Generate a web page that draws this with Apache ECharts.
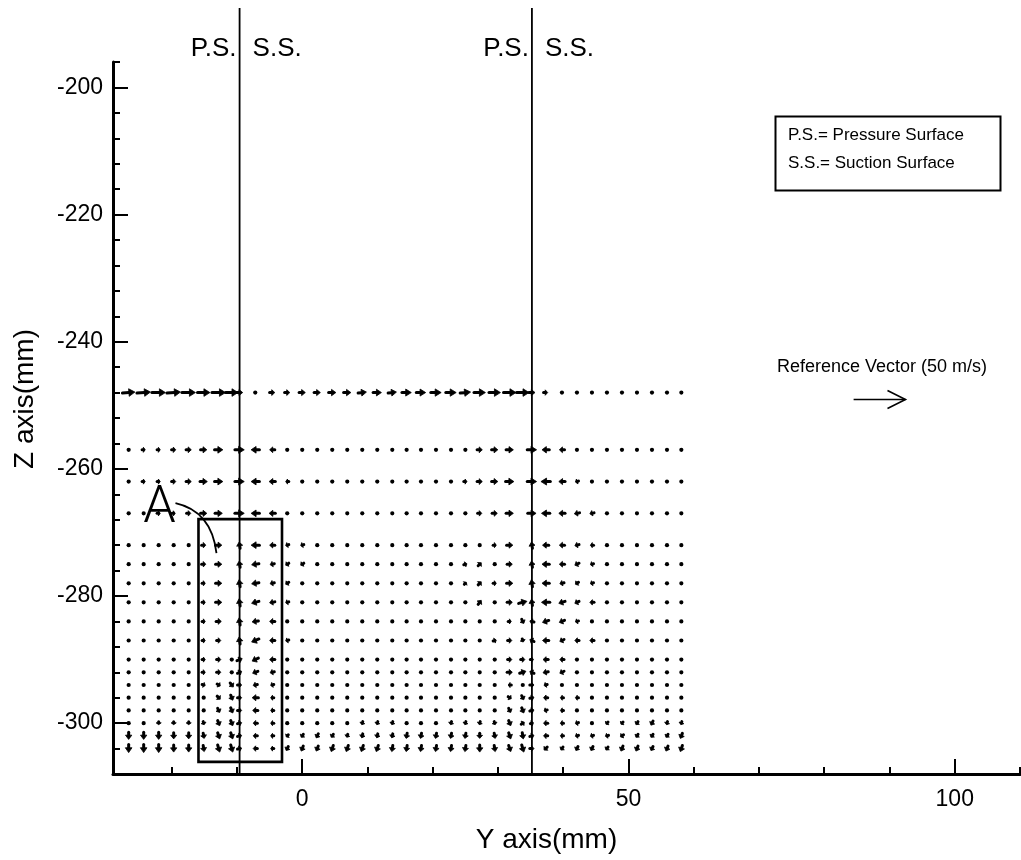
<!DOCTYPE html>
<html>
<head>
<meta charset="utf-8">
<title>Velocity vectors, Y-Z plane</title>
<script src="https://cdn.jsdelivr.net/npm/echarts@6/dist/echarts.min.js"></script>
<style>
  html, body { margin: 0; padding: 0; background: #fff; }
  #chart { width: 1021px; height: 860px; }
</style>
</head>
<body>
<div id="chart"></div>
<script>
// axis ranges and ticks (mm)
const yRange = [-29, 110];
const zRange = [-308, -196];
const yMajorTicks = [0, 50, 100];
const yMinorTicks = [-20, -10, 0, 10, 20, 30, 40, 50, 60, 70, 80, 90, 100, 110];
const zMajorTicks = [-300, -280, -260, -240, -220, -200];
const zMinorTicks = [-308, -304, -300, -296, -292, -288, -284, -280, -276, -272, -268, -264, -260, -256,
  -252, -248, -244, -240, -236, -232, -228, -224, -220, -216, -212, -208, -204, -200, -196];

// blade surfaces (Y position, mm)
const bladeY = [-9.6, 35.2];

// measurement grid
const columnY = [-26.6, -24.3, -22.0, -19.7, -17.4, -15.1, -12.8, -10.8, -9.6,
  -7.2, -4.6, -2.3, 0.0, 2.3, 4.6, 6.9, 9.2, 11.5, 13.8,
  16.0, 18.2, 20.5, 22.8, 25.0, 27.2, 29.5, 31.8, 33.8, 35.2,
  37.3, 39.8, 42.1, 44.4, 46.7, 49.0, 51.3, 53.6, 55.9, 58.1];
const rowZ = [-248, -257, -262, -267, -272, -275, -278, -281, -284, -287,
  -290, -292, -294, -296, -298, -300, -302, -304];

// [v, w] velocity (m/s) per column, one array per Z row
const row248 = [[12,1],[13,1],[13,0],[13,1],[13,0],[12,0],[13,0],[12,0],[6,0],
  [2,0],[5,0],[5,0],[6,0],[6,0],[7,0],[7,0],[8,1],[8,0],[8,1],
  [9,0],[9,0],[10,0],[10,0],[10,1],[11,0],[11,0],[12,0],[12,0],[6,0],
  [4,0],[1,0],[0,0],[1,0],[1,0],[1,0],[2,0],[2,0],[2,0],[2,0]];
const row257 = [[2,0],[3,0],[3,0],[4,0],[5,0],[6,0],[8,0],null,[9,0],
  [-8,0],[-5,0],[-2,0],[-2,0],[-1,0],[-1,1],[0,0],[1,0],[1,0],[1,0],
  [1,0],[1,0],[2,0],[2,0],[2,0],[5,0],[6,0],[7,0],null,[9,0],
  [-7,0],[-5,0],[-2,0],[-1,0],[-1,0],[-1,0],[-1,0],[-1,0],[-1,0],[-1,0]];
const row262 = [[2,0],[3,0],[3,0],[4,0],[5,0],[7,0],[8,0],null,[9,0],
  [-8,0],[-6,0],[-3,0],[-2,0],[-1,0],[-1,1],[0,0],[1,0],[1,0],[1,0],
  [1,0],[1,0],[2,0],[2,0],[3,0],[5,0],[6,0],[8,0],null,[9,0],
  [-9,0],[-6,0],[-3,-1],[-2,0],[-1,0],[-1,0],[-1,0],[-1,0],[-1,0],[-1,0]];
const row267 = [[1,0],[2,0],[3,0],[3,0],[4,0],[6,0],[7,0],null,[9,0],
  [-8,0],[-6,0],[-2,0],[-2,0],[-1,-1],[-1,1],[0,1],[0,0],[1,0],[1,0],
  [1,0],[1,0],[1,0],[2,0],[2,0],[4,0],[5,0],[7,0],null,[8,0],
  [-8,0],[-6,0],[-5,-1],[-4,-1],[-2,0],[-1,0],[-1,0],[-1,0],[-1,0],[-1,0]];
const row272 = [[1,0],[1,0],[1,0],[2,0],[2,0],[4,0],[6,0],null,[-1,6],
  [-8,0],[-5,0],[-3,-1],[-3,-1],[-2,-1],[-1,-1],[-1,0],[0,0],[1,0],[1,0],
  [1,0],[1,0],[1,0],[1,0],[2,0],[2,0],[3,0],[6,0],null,[-1,6],
  [-6,0],[-5,0],[-4,-1],[-3,0],[-1,0],[-1,0],[0,0],[0,0],[0,0],[0,0]];
const row275 = [[1,0],[1,0],[1,0],[2,0],[2,0],[4,0],[6,0],null,[-1,6],
  [-7,-1],[-4,-1],[-3,-2],[-3,-2],[-2,-1],[-1,-1],[-1,0],[0,0],[0,0],[0,0],
  [1,0],[1,0],[1,0],[2,0],[3,1],[3,3],[2,0],[5,0],null,[-1,6],
  [-7,0],[-5,0],[-4,-2],[-3,-1],[-1,0],[-1,0],[0,0],[0,0],[1,0],[1,0]];
const row278 = [[1,0],[1,0],[1,0],[1,0],[2,0],[3,0],[6,0],null,[-1,7],
  [-7,-1],[-4,-1],[-3,-2],[-2,-1],[-1,0],[-1,0],[0,0],[0,0],[0,0],[0,0],
  [1,0],[1,0],[1,0],[2,0],[2,2],[3,3],[3,0],[6,0],null,[-1,7],
  [-7,0],[-4,-1],[-3,-2],[-3,-1],[-1,0],[-1,0],[0,0],[0,0],[0,0],[0,0]];
const row281 = [[1,0],[1,0],[1,0],[2,0],[2,0],[3,0],[6,0],null,[-1,7],
  [-7,-2],[-5,-1],[-3,-1],[-2,-1],[-2,0],[-2,0],[-1,0],[-1,0],[0,0],[0,0],
  [1,0],[1,0],[1,0],[1,0],[2,1],[3,4],[2,0],[5,0],[8,2],[-1,6],
  [-8,0],[-6,-2],[-4,-2],[-4,0],[-2,0],[-2,0],[-1,0],[-1,0],[-1,0],[-1,0]];
const row284 = [[1,0],[1,0],[1,0],[1,0],[2,0],[3,0],[5,0],null,[-1,7],
  [-6,-1],[-5,0],[-2,-1],[-2,-1],[-2,0],[-1,0],[0,0],[0,0],[0,0],[0,0],
  [1,0],[1,0],[1,0],[1,0],[2,1],[1,2],[1,0],[3,0],[2,-4],[-4,1],
  [-6,-2],[-5,-2],[-3,-1],[-2,0],[-2,0],[-1,0],[0,0],[0,0],[0,0],[0,0]];
const row287 = [[0,0],[1,0],[1,0],[1,0],[1,0],[3,0],[4,0],null,[-1,7],
  [-7,-3],[-5,0],[-3,-1],[-2,0],[-2,-1],[-1,0],[0,0],[0,0],[0,0],[0,0],
  [0,0],[1,0],[0,0],[0,0],[1,0],[1,0],[3,1],[4,0],[1,-3],[-4,2],
  [-6,0],[-4,-2],[-4,0],[-4,0],[-1,0],[-1,0],[0,0],[0,0],[0,0],[0,0]];
const row290 = [[0,0],[0,0],[0,0],[1,0],[1,0],[3,0],[4,0],[2,1],[5,2],
  [-6,-3],[-5,0],[-1,0],[-1,0],[-1,0],[0,0],[0,0],[0,0],[0,0],[0,0],
  [0,0],[0,0],[0,0],[0,0],[0,0],[1,0],[1,0],[4,0],[4,0],[3,0],
  [-5,0],[-4,0],[-2,-1],[-2,0],[-1,0],[-1,0],[0,0],[0,0],[0,0],[0,0]];
const row292 = [[0,0],[0,0],[0,0],[0,0],[1,0],[3,0],[4,0],[1,0],[4,2],
  [-5,-2],[-4,-1],[-1,0],[-1,0],[-1,0],[0,0],[0,0],[0,0],[0,0],[0,0],
  [0,0],[0,0],[0,0],[0,0],[0,0],[1,0],[1,0],[5,0],[6,2],[-4,2],
  [-5,-1],[-4,-2],[-2,-1],[-1,0],[-1,0],[0,0],[0,0],[0,0],[0,0],[0,0]];
const row294 = [[0,0],[1,-1],[1,-1],[1,-1],[1,-1],[3,-1],[3,-2],[3,-4],[4,0],
  [-4,-1],[-3,-1],[-1,0],[0,0],[0,0],[0,0],[0,0],[0,0],[0,0],[0,0],
  [0,0],[0,0],[0,0],[1,-1],[0,0],[1,0],[2,0],[-3,0],[1,0],[4,0],
  [-3,-1],[-2,-1],[-1,-1],[-1,0],[0,0],[0,0],[0,0],[0,0],[0,0],[0,0]];
const row296 = [[0,0],[0,-1],[0,-1],[0,-1],[1,-1],[2,-1],[3,-3],[2,-5],[4,0],
  [-6,0],[-3,0],[-2,0],[-1,0],[-1,-1],[0,-1],[0,-1],[0,-1],[0,-1],[0,-1],
  [0,-1],[0,-1],[0,-1],[0,-1],[0,-1],[1,-1],[1,-2],[3,-2],[2,-4],[4,1],
  [-4,0],[-3,0],[-3,0],[-2,-1],[-2,-1],[-1,-1],[-1,-1],[0,-1],[0,-1],[0,-1]];
const row298 = [[0,-1],[0,-2],[0,-1],[0,-1],[0,-2],[1,-2],[2,-4],[2,-5],[4,0],
  [-5,0],[-3,0],[-2,0],[-1,0],[-1,-1],[0,-1],[0,-1],[-1,-1],[0,-2],[0,-2],
  [0,-1],[0,-1],[0,-1],[0,-1],[0,-2],[0,-1],[1,-2],[2,-4],[2,-5],[4,1],
  [-3,-1],[-3,0],[-2,0],[-2,-1],[-1,-1],[-1,-1],[-1,-2],[-1,-2],[-1,-2],[-1,-2]];
const row300 = [[0,-1],[0,-2],[0,-3],[0,-3],[0,-3],[1,-3],[2,-5],[2,-5],[4,1],
  [-4,0],[-3,0],[-2,-1],[-2,-1],[-1,-2],[-1,-2],[-1,-2],[-1,-3],[-1,-3],[-1,-3],
  [-1,-2],[-1,-2],[-1,-2],[-1,-3],[-1,-3],[-1,-3],[1,-3],[2,-5],[3,2],[3,1],
  [-4,0],[-3,0],[-3,-1],[-2,-1],[-2,-2],[-2,-2],[-2,-3],[-2,-4],[-1,-3],[-1,-3]];
const row302 = [[0,-7],[0,-7],[0,-7],[0,-6],[0,-6],[1,-5],[2,-6],[2,-6],[4,1],
  [-4,0],[-3,0],[-2,-2],[-2,-3],[-2,-4],[-2,-3],[-1,-3],[-1,-4],[-1,-4],[-1,-4],
  [-1,-5],[-1,-5],[-1,-5],[-1,-5],[-1,-5],[0,-5],[1,-5],[2,-6],[1,-6],[4,1],
  [-4,0],[-3,0],[-3,-1],[-3,-1],[-3,-1],[-3,-2],[-2,-3],[-2,-3],[-2,-3],[-2,-5]];
const row304 = [[0,-8],[0,-8],[0,-8],[0,-7],[0,-7],[1,-6],[2,-7],[2,-7],[4,1],
  [-4,0],[-3,0],[-2,-4],[-2,-5],[-2,-5],[-2,-6],[-2,-6],[-2,-6],[-2,-6],[-1,-6],
  [-1,-6],[-1,-6],[-1,-6],[-1,-6],[-1,-6],[0,-7],[1,-6],[2,-6],[2,-7],[4,0],
  [-3,-3],[-2,-3],[-2,-4],[-2,-4],[-2,-3],[-2,-5],[-2,-5],[-2,-4],[-2,-5],[-2,-6]];
const rowVectors = [row248, row257, row262, row267, row272, row275, row278, row281, row284,
  row287, row290, row292, row294, row296, row298, row300, row302, row304];

// reference vector: [Y, Z, v, w]
const refVector = [[84.5, -249.1, 50, 0]];
// box around region A: [Y0, Z0, Y1, Z1]
const regionA = [[-15.9, -267.9, -3.1, -306.1]];

// vector length scale: mm of plot per m/s
const mmPerMs = 0.159;
const FONT = '"Liberation Sans", Arial, Helvetica, sans-serif';

const vectorData = [];
rowVectors.forEach((row, i) => {
  row.forEach((v, j) => {
    if (v) vectorData.push([columnY[j], rowZ[i], v[0], v[1]]);
  });
});

// 速度矢量：以测点为中心画短箭头
const renderVector = (params, api) => {
  const y = api.value(0), z = api.value(1);
  const du = api.value(2) * mmPerMs / 2, dw = api.value(3) * mmPerMs / 2;
  const p = api.coord([y, z]);
  const tail = api.coord([y - du, z - dw]);
  const head = api.coord([y + du, z + dw]);
  const dx = head[0] - tail[0], dy = head[1] - tail[1];
  const len = Math.hypot(dx, dy);
  if (len < 2.5) {
    return { type: 'circle', shape: { cx: p[0], cy: p[1], r: 2.1 }, style: { fill: '#000' } };
  }
  const ux = dx / len, uy = dy / len;
  const h = Math.min(6, len * 0.6);
  const w = Math.min(3.8, 2.1 + len * 0.15);
  const bx = head[0] - ux * h, by = head[1] - uy * h;
  return {
    type: 'group',
    children: [
      { type: 'line', shape: { x1: tail[0], y1: tail[1], x2: bx, y2: by },
        style: { stroke: '#000', lineWidth: 3, lineCap: 'round' } },
      { type: 'polygon', shape: { points: [[head[0], head[1]], [bx - uy * w, by + ux * w], [bx + uy * w, by - ux * w]] },
        style: { fill: '#000', stroke: '#000', lineWidth: 0.8, lineJoin: 'round' } }
    ]
  };
};

const renderRefVector = (params, api) => {
  const tail = api.coord([api.value(0), api.value(1)]);
  const head = api.coord([api.value(0) + api.value(2) * mmPerMs, api.value(1) + api.value(3) * mmPerMs]);
  const st = { stroke: '#000', fill: 'none', lineWidth: 1.6 };
  return {
    type: 'group',
    children: [
      { type: 'line', shape: { x1: tail[0], y1: tail[1], x2: head[0], y2: head[1] }, style: st },
      { type: 'polyline', shape: { points: [[head[0] - 18, head[1] - 9], [head[0], head[1]], [head[0] - 18, head[1] + 9]] }, style: st }
    ]
  };
};

const renderBlade = (params, api) => {
  const base = api.coord([api.value(0), zRange[0]]);
  const x = base[0];
  const labelStyle = { fill: '#000', fontSize: 26, fontFamily: FONT, verticalAlign: 'middle', textVerticalAlign: 'middle' };
  return {
    type: 'group',
    children: [
      { type: 'line', shape: { x1: x, y1: 8, x2: x, y2: base[1] }, style: { stroke: '#000', lineWidth: 1.8 } },
      { type: 'text', x: x - 3, y: 49, style: Object.assign({ text: 'P.S.', align: 'right', textAlign: 'right' }, labelStyle) },
      { type: 'text', x: x + 13, y: 49, style: Object.assign({ text: 'S.S.', align: 'left', textAlign: 'left' }, labelStyle) }
    ]
  };
};

const renderRegion = (params, api) => {
  const p0 = api.coord([api.value(0), api.value(1)]);
  const p1 = api.coord([api.value(2), api.value(3)]);
  return {
    type: 'group',
    children: [
      { type: 'rect', shape: { x: p0[0], y: p0[1], width: p1[0] - p0[0], height: p1[1] - p0[1] },
        style: { fill: 'none', stroke: '#000', lineWidth: 2.6 } },
      { type: 'text', x: p0[0] - 39, y: p0[1] - 10,
        style: { text: 'A', fill: '#000', fontSize: 52, fontWeight: 300, fontFamily: 'Roboto, "DejaVu Sans", sans-serif',
          align: 'center', textAlign: 'center', verticalAlign: 'middle', textVerticalAlign: 'middle' } },
      { type: 'bezierCurve', shape: { x1: p0[0] - 23, y1: p0[1] - 16, cpx1: p0[0] + 13, cpy1: p0[1] - 8, x2: p0[0] + 18, y2: p0[1] + 34 },
        style: { fill: 'none', stroke: '#000', lineWidth: 1.8 } }
    ]
  };
};

const axisLineStyle = { color: '#000', width: 3 };
const labelFont = { color: '#000', fontSize: 23, fontFamily: FONT };

const option = {
  animation: false,
  backgroundColor: '#fff',
  grid: { left: 113, right: 1, top: 62, bottom: 86 },
  xAxis: [
    {
      type: 'value', min: yRange[0], max: yRange[1], position: 'bottom',
      name: 'Y axis(mm)', nameLocation: 'middle', nameGap: 52,
      nameTextStyle: { color: '#000', fontSize: 28, fontFamily: FONT, padding: [0, 40, 0, 0] },
      axisLine: { show: true, onZero: false, lineStyle: axisLineStyle },
      axisTick: { show: true, inside: true, length: 15, customValues: yMajorTicks, lineStyle: { color: '#000', width: 2 } },
      axisLabel: Object.assign({ margin: 14, customValues: yMajorTicks }, labelFont),
      splitLine: { show: false }
    },
    {
      type: 'value', min: yRange[0], max: yRange[1], position: 'bottom',
      axisLine: { show: false, onZero: false },
      axisTick: { show: true, inside: true, length: 7, customValues: yMinorTicks, lineStyle: { color: '#000', width: 2 } },
      axisLabel: { show: false },
      splitLine: { show: false }
    }
  ],
  yAxis: [
    {
      type: 'value', min: zRange[0], max: zRange[1], position: 'left',
      name: 'Z axis(mm)', nameLocation: 'middle', nameGap: 74, nameRotate: 90,
      nameTextStyle: { color: '#000', fontSize: 28, fontFamily: FONT, padding: [0, 0, 0, 38] },
      axisLine: { show: true, onZero: false, lineStyle: axisLineStyle },
      axisTick: { show: true, inside: true, length: 15, customValues: zMajorTicks, lineStyle: { color: '#000', width: 2 } },
      axisLabel: Object.assign({ margin: 10, customValues: zMajorTicks }, labelFont),
      splitLine: { show: false }
    },
    {
      type: 'value', min: zRange[0], max: zRange[1], position: 'left',
      axisLine: { show: false, onZero: false },
      axisTick: { show: true, inside: true, length: 7, customValues: zMinorTicks, lineStyle: { color: '#000', width: 2 } },
      axisLabel: { show: false },
      splitLine: { show: false }
    }
  ],
  graphic: [
    { type: 'rect', left: 773, top: 114, shape: { width: 225, height: 74 },
      style: { fill: 'none', stroke: '#000', lineWidth: 2 } },
    { type: 'text', left: 788, top: 127, style: { text: 'P.S.= Pressure Surface', fill: '#000', font: '17px ' + FONT } },
    { type: 'text', left: 788, top: 155, style: { text: 'S.S.= Suction Surface', fill: '#000', font: '17px ' + FONT } },
    { type: 'text', left: 777, top: 358, style: { text: 'Reference Vector (50 m/s)', fill: '#000', font: '18px ' + FONT } }
  ],
  series: [
    { type: 'custom', name: 'blades', renderItem: renderBlade, data: bladeY.map(v => [v]),
      encode: { x: 0 }, clip: false, silent: true, z: 3 },
    { type: 'custom', name: 'velocity', renderItem: renderVector, data: vectorData,
      encode: { x: 0, y: 1 }, clip: false, silent: true, z: 4 },
    { type: 'custom', name: 'region A', renderItem: renderRegion, data: regionA,
      encode: { x: [0, 2], y: [1, 3] }, clip: false, silent: true, z: 5 },
    { type: 'custom', name: 'reference', renderItem: renderRefVector, data: refVector,
      encode: { x: 0, y: 1 }, clip: false, silent: true, z: 5 }
  ]
};

const chart = echarts.init(document.getElementById('chart'), null, { renderer: 'canvas' });
chart.setOption(option);
window.addEventListener('resize', () => chart.resize());
</script>
</body>
</html>
